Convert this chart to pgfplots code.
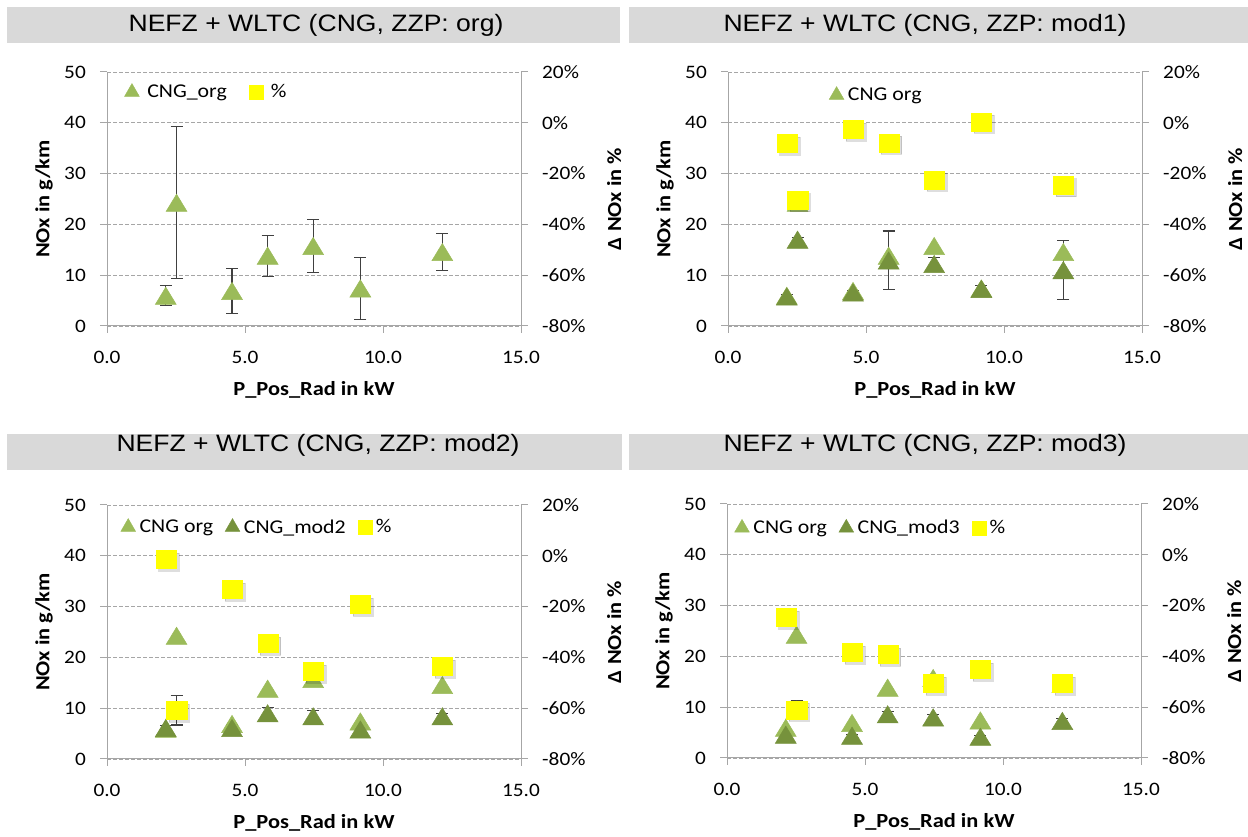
\documentclass[border=0pt]{standalone}
\usepackage{pgfplots}
\pgfplotsset{compat=1.18}
\usepackage{fontspec}
\setmainfont{Carlito}[FakeStretch=1.12]
\newfontfamily\titlefont{Liberation Sans}[FakeStretch=1.12]
\definecolor{orgc}{HTML}{9BBB59}
\definecolor{modc}{HTML}{76923C}
\definecolor{pctc}{HTML}{FFFF00}
\definecolor{bann}{HTML}{D9D9D9}
\definecolor{axc}{HTML}{A6A6A6}
\definecolor{gridc}{HTML}{A6A6A6}
\definecolor{errc}{HTML}{404040}
\newcommand\tickfont{\fontsize{19}{22}\selectfont}
\newcommand\labfont{\fontsize{20}{24}\selectfont\bfseries}
\newcommand\legfont{\fontsize{19.5}{23}\selectfont}

\pgfplotstableread{
x y e
2.13 5.95 2.0
2.52 24.25 14.95
4.53 6.9 4.5
5.82 13.85 4.05
7.47 15.75 5.25
9.18 7.4 6.1
12.15 14.55 3.65
}\org
\pgfplotstableread{
x y e p
2.13 5.8 0.4 -8.1
2.52 17.0 0.4 -30.4
4.53 6.6 0.4 -2.6
5.82 12.9 5.8 -7.8
7.47 12.2 1.2 -22.5
9.18 7.3 0.6 0.4
12.15 11.0 5.8 -24.5
}\modA
\pgfplotstableread{
x y e p
2.13 6.1 0.5 -1.4
2.52 9.6 2.9 -60.9
4.53 6.1 0.6 -13.2
5.82 9.0 1.2 -34.4
7.47 8.4 1.2 -45.5
9.18 5.8 0.4 -19.1
12.15 8.4 0.6 -43.6
}\modB
\pgfplotstableread{
x y e p
2.13 4.6 0.3 -24.6
2.52 9.5 1.8 -61.0
4.53 4.4 0.3 -38.3
5.82 8.6 0.5 -39.1
7.47 8.0 0.5 -50.5
9.18 4.2 0.3 -45.0
12.15 7.3 0.5 -50.5
}\modC

\pgfplotsset{
 base/.style={scale only axis, width=414pt, height=254pt, anchor=south west,
  xmin=0, xmax=15, ymin=0, ymax=50,
  xtick={0,5,10,15}, xticklabels={0.0,5.0,10.0,15.0},
  ytick={0,10,20,30,40,50},
  axis x line*=bottom, axis y line*=left,
  axis line style={axc, line width=1pt},
  tick style={axc, line width=1pt},
  major tick length=7pt, tick align=outside,
  ymajorgrids, major grid style={gridc, line width=0.9pt, dash pattern=on 3.5pt off 2.5pt},
  /pgf/number format/assume math mode=true,
  xticklabel style={font=\tickfont, anchor=north, inner sep=0pt, yshift=-18pt},
  yticklabel style={font=\tickfont, anchor=east, inner sep=0pt, xshift=-14pt},
  every axis y label/.style={at={(axis description cs:-0.152,0.5)}, rotate=90, anchor=center, font=\labfont},
  every axis x label/.style={at={(axis description cs:0.5,-0.252)}, anchor=center, font=\labfont},
  xlabel={P\_Pos\_Rad in kW}, ylabel={NOx in g/km},
 },
 sec/.style={scale only axis, width=414pt, height=254pt, anchor=south west,
  xmin=0, xmax=15, ymin=-80, ymax=20,
  axis x line=none, axis y line*=right,
  axis line style={axc, line width=1pt},
  tick style={axc, line width=1pt},
  major tick length=7pt, tick align=outside,
  ytick={-80,-60,-40,-20,0,20},
  yticklabels={-80\%,-60\%,-40\%,-20\%,0\%,20\%},
  yticklabel style={font=\tickfont, anchor=west, inner sep=0pt, xshift=14pt},
  every axis y label/.style={at={(axis description cs:1.225,0.5)}, rotate=90, anchor=center, font=\labfont},
  ylabel={Δ NOx in \%},
  legend image code/.code={\draw[##1] plot coordinates {(0pt,0pt)};},
  legend style={draw=none, fill=none, legend columns=-1, anchor=west, font=\legfont,
    inner sep=0pt, nodes={inner sep=2pt}},
 },
 orgm/.style={only marks, mark=triangle*, mark size=11.5pt,
   mark options={fill=orgc, draw=orgc, line width=0.5pt, yshift=-2.9pt, xscale=1.05}},
 modm/.style={only marks, mark=triangle*, mark size=11.5pt,
   mark options={fill=modc, draw=modc, line width=0.5pt, yshift=-2.9pt, xscale=1.05}},
 errs/.style={error bars/.cd, y dir=both, y explicit,
   error bar style={errc, line width=1.1pt},
   error mark options={rotate=90, errc, line width=1.1pt, mark size=6pt}},
 pctm/.style={forget plot, only marks, mark=square*, mark size=9pt,
   mark options={fill=pctc, draw=pctc, line width=0.1pt, xscale=1.12}},
 pcts/.style={forget plot, only marks, mark=square*, mark size=9pt,
   mark options={fill=black, draw=black, line width=0.1pt, opacity=0.13, xscale=1.12, xshift=2.5pt, yshift=-2.5pt}},
 legorg/.style={only marks, mark=triangle*, mark size=8.5pt, mark options={fill=orgc, draw=orgc}},
 legmod/.style={only marks, mark=triangle*, mark size=8.5pt, mark options={fill=modc, draw=modc}},
 legpct/.style={only marks, mark=square*, mark size=7pt, mark options={fill=pctc, draw=pctc, line width=0.1pt}},
}

\begin{document}
\begin{tikzpicture}
\path[use as bounding box] (0pt,0pt) rectangle (1248pt,837pt);
% banners
\fill[bann] (7pt,794pt) rectangle (620pt,830pt);
\fill[bann] (629pt,794pt) rectangle (1248pt,830pt);
\fill[bann] (7pt,367pt) rectangle (622pt,403pt);
\fill[bann] (629pt,367pt) rectangle (1248pt,403pt);
\node[font=\titlefont\fontsize{23.7}{28}\selectfont] at (316pt,812pt) {NEFZ + WLTC (CNG, ZZP: org)};
\node[font=\titlefont\fontsize{23.7}{28}\selectfont] at (925pt,812pt) {NEFZ + WLTC (CNG, ZZP: mod1)};
\node[font=\titlefont\fontsize{23.7}{28}\selectfont] at (318pt,392pt) {NEFZ + WLTC (CNG, ZZP: mod2)};
\node[font=\titlefont\fontsize{23.7}{28}\selectfont] at (925pt,392pt) {NEFZ + WLTC (CNG, ZZP: mod3)};

% ---------- Panel 1
\begin{axis}[base, at={(107pt,511pt)}]
\addplot[orgm, errs] table[x=x, y=y, y error=e] {\org};
\end{axis}
\begin{axis}[sec, at={(107pt,511pt)},
  legend style={at={(axis description cs:0.042,0.921)},
   /tikz/every odd column/.append style={column sep=6pt},
   /tikz/every even column/.append style={column sep=20pt}}]
\addlegendimage{legorg}
\addlegendimage{legpct}
\legend{CNG\_org, \%}
\end{axis}

% ---------- Panel 2
\begin{axis}[base, at={(728pt,511pt)}]
\addplot[orgm] table[x=x, y=y] {\org};
\addplot[modm, errs] table[x=x, y=y, y error=e] {\modA};
\end{axis}
\begin{axis}[sec, at={(728pt,511pt)},
  legend style={at={(axis description cs:0.244,0.909)},
   /tikz/every odd column/.append style={column sep=2pt}}]
\addplot[pcts] table[x=x, y=p] {\modA};
\addplot[pctm] table[x=x, y=p] {\modA};
\addlegendimage{legorg}
\legend{CNG org}
\end{axis}

% ---------- Panel 3
\begin{axis}[base, at={(107pt,78pt)}]
\addplot[orgm] table[x=x, y=y] {\org};
\addplot[modm, errs] table[x=x, y=y, y error=e] {\modB};
\end{axis}
\begin{axis}[sec, at={(107pt,78pt)},
  legend style={at={(axis description cs:0.033,0.913)},
   /tikz/every odd column/.append style={column sep=2pt},
   /tikz/every even column/.append style={column sep=10pt}}]
\addplot[pcts] table[x=x, y=p] {\modB};
\addplot[pctm] table[x=x, y=p] {\modB};
\addlegendimage{legorg}
\addlegendimage{legmod}
\addlegendimage{legpct}
\legend{CNG org, CNG\_mod2, \%}
\end{axis}

% ---------- Panel 4
\begin{axis}[base, at={(727pt,79pt)}]
\addplot[orgm] table[x=x, y=y] {\org};
\addplot[modm, errs] table[x=x, y=y, y error=e] {\modC};
\end{axis}
\begin{axis}[sec, at={(727pt,79pt)},
  legend style={at={(axis description cs:0.018,0.906)},
   /tikz/every odd column/.append style={column sep=2pt},
   /tikz/every even column/.append style={column sep=10pt}}]
\addplot[pcts] table[x=x, y=p] {\modC};
\addplot[pctm] table[x=x, y=p] {\modC};
\addlegendimage{legorg}
\addlegendimage{legmod}
\addlegendimage{legpct}
\legend{CNG org, CNG\_mod3, \%}
\end{axis}
\end{tikzpicture}
\end{document}
